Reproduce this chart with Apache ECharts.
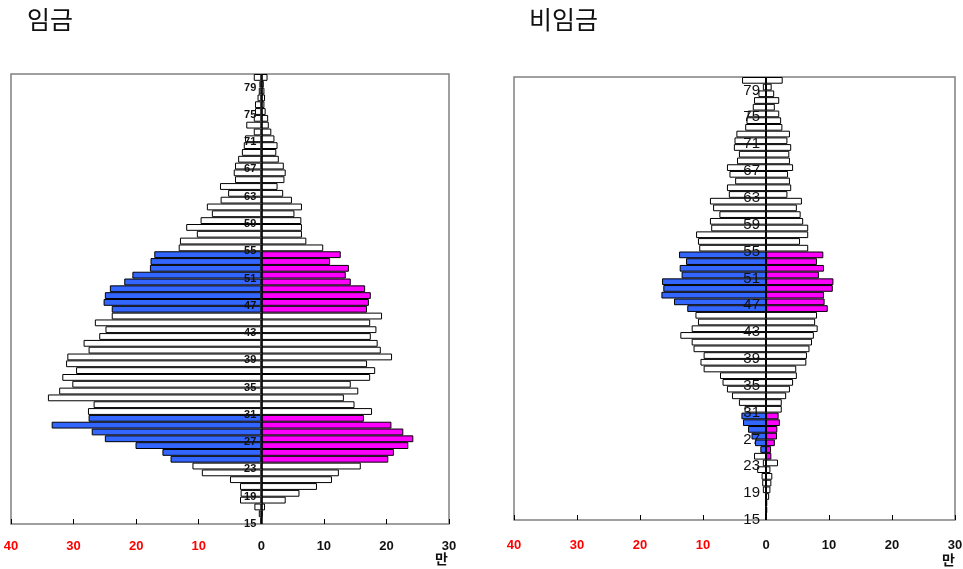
<!DOCTYPE html>
<html><head><meta charset="utf-8">
<script src="https://cdn.jsdelivr.net/npm/echarts@6/dist/echarts.min.js"></script>
<style>html,body{margin:0;padding:0;background:#fff}#c{width:963px;height:569px}</style>
</head><body><div id="c"></div>
<script>
// Ages (categories), bottom to top
const ages = [15,16,17,18,19,20,21,22,23,24,25,26,27,28,29,30,31,32,33,34,35,36,37,38,39,40,
  41,42,43,44,45,46,47,48,49,50,51,52,53,54,55,56,57,58,59,60,61,62,63,64,65,66,67,68,69,70,
  71,72,73,74,75,76,77,78,79,80];
// Age tick labels shown on the centre axis
const ageTicks = [15,19,23,27,31,35,39,43,47,51,55,59,63,67,71,75,79];

// 임금 (wage) - left side and right side values (만)
const wageLeft = [0.1,0.4,1.1,3.4,3.3,3.4,5.0,9.5,11.0,14.5,15.8,20.1,25.0,27.1,33.5,27.6,
  27.7,26.8,34.1,32.3,30.2,31.8,29.6,31.2,31.0,27.6,28.4,25.9,24.9,26.6,23.9,23.9,25.2,25.0,
  24.2,21.9,20.6,17.8,17.7,17.1,13.2,13.0,10.3,12.0,9.7,7.9,8.7,6.5,5.3,6.6,4.2,4.4,4.2,3.7,
  3.1,2.8,2.6,1.2,2.4,1.2,1.0,1.0,0.6,0.4,0.3,1.2];
const wageRight = [0,0.2,0.6,3.9,6.1,8.9,11.3,12.4,15.9,20.3,21.2,23.5,24.3,22.7,20.8,16.4,
  17.7,14.9,13.2,15.5,14.3,17.4,18.2,16.9,20.9,19.1,18.6,17.5,18.4,17.4,19.3,16.9,17.2,17.5,
  16.6,14.3,13.5,14.0,11.0,12.7,9.9,7.2,6.5,6.5,6.4,5.3,6.5,4.9,3.5,2.6,3.7,3.9,3.6,2.8,
  2.4,2.6,2.1,1.6,1.2,1.1,0.7,0.5,0.6,0.5,0.4,1.0];

// 비임금 (non-wage)
const nonWageLeft = [0,0,0.1,0.1,0.5,0.6,0.7,1.4,0.5,1.9,0.9,1.75,2.3,2.85,3.65,3.9,
  3.4,4.3,5.4,6.2,6.9,7.3,9.9,10.4,9.9,11.5,11.8,13.6,11.8,10.8,11.2,12.5,14.6,16.6,
  16.3,16.5,13.4,13.7,12.7,13.8,10.6,10.8,11.1,8.7,8.9,7.4,8.4,8.9,5.9,6.2,4.9,5.8,6.2,4.6,
  4.3,5.1,5.0,4.7,3.3,3.1,2.9,2.1,1.9,1.2,0.5,3.8];
const nonWageRight = [0,0.2,0.2,0.5,0.7,0.85,1.0,0.7,1.9,0.85,0.8,1.4,1.75,1.8,2.2,2.0,
  2.5,2.5,3.2,3.8,4.3,4.9,4.8,6.4,6.5,6.9,7.3,7.6,8.2,7.8,8.1,9.8,9.3,9.2,
  10.6,10.7,8.4,9.2,8.1,9.1,6.7,5.4,6.7,6.7,5.9,5.5,4.9,5.7,3.4,4.0,3.8,3.5,4.3,3.8,
  3.7,4.0,3.4,3.8,2.6,2.4,2.1,1.4,2.1,1.3,0.9,2.65];

// Highlighted ages
const wageLeftHL = [24,25,26,27,28,29,30,46,47,48,49,50,51,52,53,54];
const wageRightHL = [24,25,26,27,28,29,30,46,47,48,49,50,51,52,53,54];
const nonWageLeftHL = [25,26,27,28,29,30,46,47,48,49,50,51,52,53,54];
const nonWageRightHL = [24,25,26,27,28,29,30,46,47,48,49,50,51,52,53,54];

const titles = ['임금', '비임금'];
const unitLabel = '만';
const xMin = -40, xMax = 30, xStep = 10;

const BLUE = '#3366ff', MAGENTA = '#ff00ff';
const NARROW = "'Liberation Sans Narrow','Arial Narrow','Liberation Sans',sans-serif";

const G = [
  { left: 11, top: 74, width: 438, height: 450 },
  { left: 514, top: 77, width: 441, height: 443 }
];

function mkData(vals, hl, color, sign) {
  return vals.map((v, i) => ({
    value: sign * v,
    itemStyle: { color: hl.includes(ages[i]) ? color : '#ffffff' }
  }));
}
function mkSeries(vals, hl, color, sign, idx, zeroLine) {
  const s = {
    type: 'bar', xAxisIndex: idx, yAxisIndex: idx,
    data: mkData(vals, hl, color, sign),
    barCategoryGap: '0%', barGap: '-100%',
    itemStyle: { borderColor: '#000', borderWidth: 1 },
    silent: true, animation: false, z: 2
  };
  if (zeroLine) {
    s.markLine = {
      silent: true, symbol: 'none', animation: false,
      label: { show: false },
      lineStyle: { color: '#000', width: 1.5, type: 'solid' },
      data: [{ xAxis: 0 }]
    };
  }
  return s;
}
function mkX(idx, margin) {
  return {
    gridIndex: idx, type: 'value', min: xMin, max: xMax, interval: xStep,
    axisLine: { onZero: false, lineStyle: { color: '#000', width: 1.5 } },
    axisTick: { show: true, inside: true, length: 5, lineStyle: { color: '#000', width: 1 } },
    splitLine: { show: false },
    axisLabel: {
      margin: margin, showMinLabel: true, showMaxLabel: true,
      formatter: v => v < 0 ? '{r|' + (-v) + '}' : '{b|' + v + '}',
      rich: {
        r: { color: '#ff0000', fontSize: 13, fontWeight: 'bold', fontFamily: NARROW },
        b: { color: '#111', fontSize: 13, fontWeight: 'bold', fontFamily: NARROW }
      }
    }
  };
}
function mkY(idx) {
  return {
    gridIndex: idx, type: 'category', data: ages.map(String),
    axisLine: { show: false, onZero: false },
    axisTick: { show: false },
    axisLabel: { show: false },
    splitLine: { show: false }
  };
}

const chart = echarts.init(document.getElementById('c'), null, { renderer: 'canvas' });
chart.setOption({
  backgroundColor: '#fff',
  animation: false,
  title: [
    { text: titles[0], left: 22, top: 2, textStyle: { fontSize: 25, fontWeight: 'normal', color: '#111', fontFamily: "'Noto Sans CJK KR',sans-serif" } },
    { text: titles[1], left: 524, top: 2, textStyle: { fontSize: 25, fontWeight: 'normal', color: '#111', fontFamily: "'Noto Sans CJK KR',sans-serif" } }
  ],
  grid: G.map(g => Object.assign({ show: true, borderColor: '#808080', borderWidth: 1.5, backgroundColor: 'transparent', containLabel: false, outerBoundsMode: 'none' }, g)),
  xAxis: [mkX(0, 16), mkX(1, 19)],
  yAxis: [mkY(0), mkY(1)],
  series: [
    mkSeries(wageLeft, wageLeftHL, BLUE, -1, 0, false),
    mkSeries(wageRight, wageRightHL, MAGENTA, 1, 0, true),
    mkSeries(nonWageLeft, nonWageLeftHL, BLUE, -1, 1, false),
    mkSeries(nonWageRight, nonWageRightHL, MAGENTA, 1, 1, true)
  ]
});

// Age labels placed on the centre (zero) axis via the chart's own scales,
// shifted half a band down (labels sit on the lower edge of each age bar).
const labelCfg = [{ fs: 11, dist: 5, fw: 'bold' }, { fs: 15, dist: 6, fw: 'normal' }];
const graphics = [];
labelCfg.forEach((cfg, idx) => {
  const p0 = chart.convertToPixel({ gridIndex: idx }, [0, String(ages[0])]);
  const p1 = chart.convertToPixel({ gridIndex: idx }, [0, String(ages[1])]);
  const half = Math.abs(p0[1] - p1[1]) / 2;
  ageTicks.forEach(a => {
    const p = chart.convertToPixel({ gridIndex: idx }, [0, String(a)]);
    graphics.push({
      type: 'text', z: 100, silent: true,
      x: p[0] - cfg.dist, y: p[1] + half,
      style: { text: String(a), fontSize: cfg.fs, fontWeight: cfg.fw, fill: '#111', fontFamily: NARROW, align: 'right', verticalAlign: 'middle' }
    });
  });
});
graphics.push(
  { type: 'text', left: 435, top: 552, z: 100, style: { text: unitLabel, fontSize: 14, fontWeight: 'bold', fill: '#111', fontFamily: "'Noto Sans CJK KR',sans-serif" } },
  { type: 'text', left: 942, top: 553, z: 100, style: { text: unitLabel, fontSize: 14, fontWeight: 'bold', fill: '#111', fontFamily: "'Noto Sans CJK KR',sans-serif" } }
);
chart.setOption({ graphic: graphics });
</script>
</body></html>
